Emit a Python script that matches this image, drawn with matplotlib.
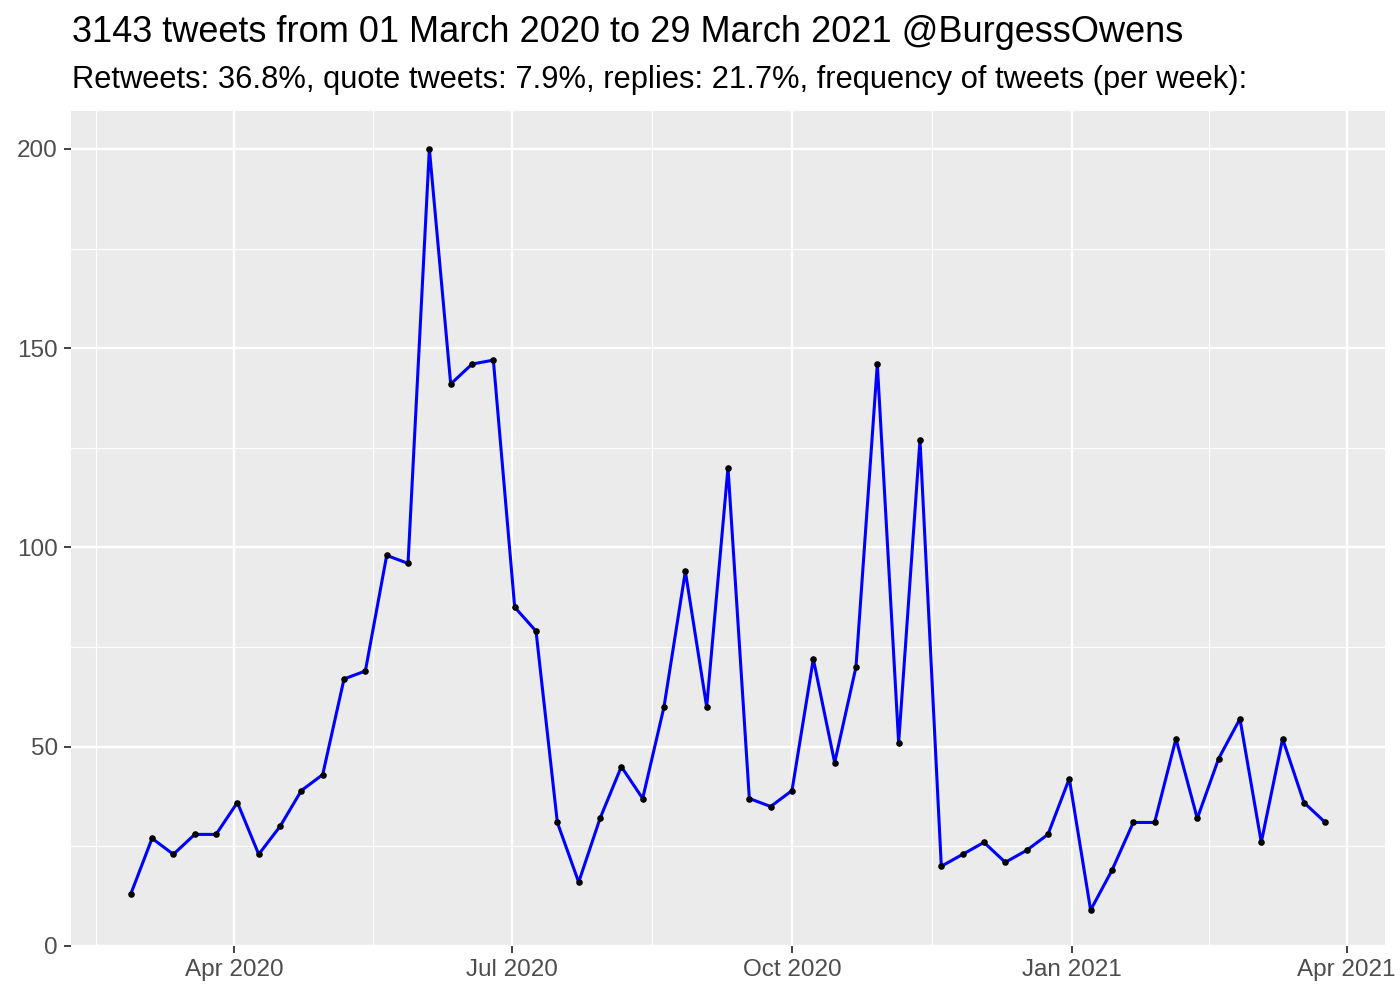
import matplotlib
matplotlib.use("Agg")
import matplotlib.pyplot as plt
import matplotlib.dates as mdates
import pandas as pd
import numpy as np

plt.rcParams['font.family'] = ['Liberation Sans', 'DejaVu Sans']

week_start = "2020-02-27"
n_weeks = 57
tweets_per_week = [13, 27, 23, 28, 28, 36, 23, 30, 39, 43, 67, 69, 98, 96, 200,
                   141, 146, 147, 85, 79, 31, 16, 32, 45, 37, 60, 94, 60, 120,
                   37, 35, 39, 72, 46, 70, 146, 51, 127, 20, 23, 26, 21, 24, 28,
                   42, 9, 19, 31, 31, 52, 32, 47, 57, 26, 52, 36, 31]
dates = pd.date_range(week_start, periods=n_weeks, freq="7D")

major_ticks = pd.to_datetime(["2020-04-01", "2020-07-01", "2020-10-01", "2021-01-01", "2021-04-01"])
title = "3143 tweets from 01 March 2020 to 29 March 2021 @BurgessOwens"
subtitle = "Retweets: 36.8%, quote tweets: 7.9%, replies: 21.7%, frequency of tweets (per week):"

fig = plt.figure(figsize=(14, 10), dpi=100)
ax = fig.add_axes([71/1400, 54/1000, (1385-71)/1400, (946-111)/1000])
ax.set_facecolor("#EBEBEB")
for s in ax.spines.values():
    s.set_visible(False)

xnum = mdates.date2num(dates)
span = xnum[-1] - xnum[0]
ax.set_xlim(xnum[0] - 0.05*span, xnum[-1] + 0.05*span)
ax.set_ylim(0, 209.5)

maj = mdates.date2num(major_ticks)
minor_x = list((maj[:-1] + maj[1:]) / 2)
minor_x = [maj[0] - (maj[1]-maj[0]) / 2] + minor_x
ax.set_xticks(maj)
ax.set_xticklabels([d.strftime("%b %Y") for d in major_ticks])
ax.set_xticks(minor_x, minor=True)
ax.set_yticks([0, 50, 100, 150, 200])
ax.set_yticks([25, 75, 125, 175], minor=True)

ax.grid(which="major", color="white", linewidth=1.7)
ax.grid(which="minor", color="white", linewidth=0.85)
ax.set_axisbelow(True)
ax.tick_params(which="major", length=5, width=1.3, color="#333333",
               labelsize=17.5, labelcolor="#4D4D4D")
ax.tick_params(axis="x", which="major", pad=4.5)
ax.tick_params(axis="y", which="major", pad=4.5)
ax.tick_params(which="minor", length=0)

ax.plot(xnum, tweets_per_week, color="#0000FF", linewidth=2.2, zorder=3)
ax.scatter(xnum, tweets_per_week, color="black", s=14, zorder=4)

fig.text(72/1400, 1 - 33/1000, title, fontsize=26, va="center", ha="left")
fig.text(72/1400, 1 - 80/1000, subtitle, fontsize=22.2, va="center", ha="left")

fig.savefig("out.png", dpi=100)
